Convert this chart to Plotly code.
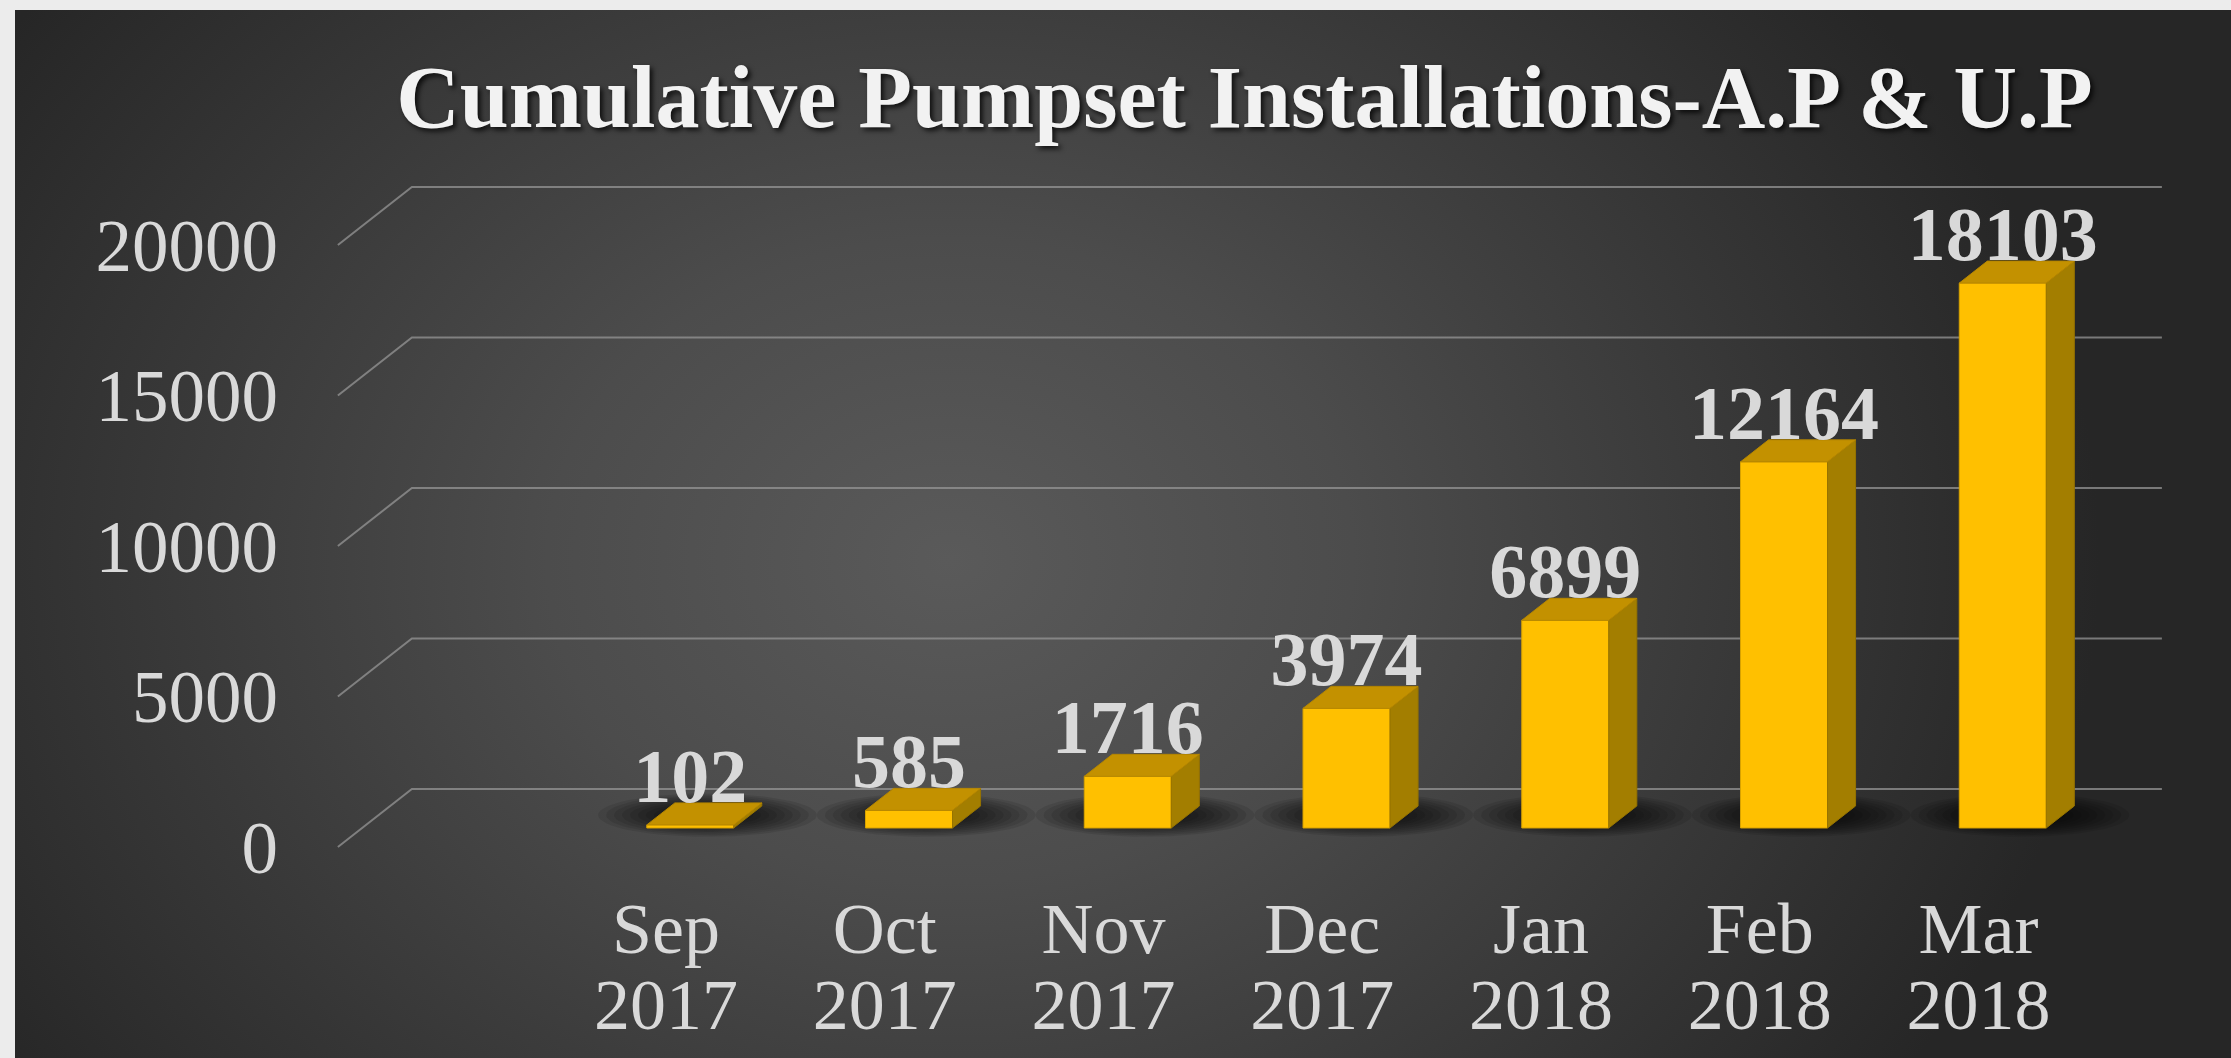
import base64
import numpy as np
import plotly.graph_objects as go

# ---------------- data ----------------
months = ["Sep", "Oct", "Nov", "Dec", "Jan", "Feb", "Mar"]
years = ["2017", "2017", "2017", "2017", "2018", "2018", "2018"]
values = [102, 585, 1716, 3974, 6899, 12164, 18103]
ytick_vals = [0, 5000, 10000, 15000, 20000]
ytick_text = ["0", "5000", "10000", "15000", "20000"]
title_text = "Cumulative Pumpset Installations-A.P & U.P"

# ---------------- projection / layout constants ----------------
W, H = 2231, 1058
CAT_PX = 218.75                      # pixels per category on the front plane
X0 = -666 / CAT_PX
X_RANGE = [X0, X0 + W / CAT_PX]
VAL_PER_PX = 20000 / 602
Y_TOP = 847 * VAL_PER_PX
Y_RANGE = [Y_TOP - H * VAL_PER_PX, Y_TOP]
DX = 74 / CAT_PX                     # full depth offset (x, category units)
DY = 58 * VAL_PER_PX                 # full depth offset (y, value units)
D1, D2 = 0.328, 0.707                # bar front / back depth fractions
BAR_W = 87 / CAT_PX
X_LEFT, X_RIGHT = -1.5, 6.5
LABEL_DROP = 18 * VAL_PER_PX

FONT = "Liberation Serif"
LABEL_COL = "#d9d9d9"

idx = list(range(len(values)))

fig = go.Figure()

# ---- back-wall gridlines with left-wall diagonals (base subplot) ----
gx, gy = [], []
for v in ytick_vals:
    gx += [X_LEFT, X_LEFT + DX, X_RIGHT + DX, None]
    gy += [v, v + DY, v + DY, None]
fig.add_trace(go.Scatter(x=gx, y=gy, mode="lines",
                         line=dict(color="rgba(150,150,150,0.75)", width=2),
                         hoverinfo="skip"))

# ---- soft floor shadows (base subplot) ----
t = np.linspace(0, 2 * np.pi, 72)
n_layers = 12
for k in range(n_layers):
    s = 1.0 - 0.8 * k / (n_layers - 1)
    sx, sy = [], []
    for i in idx:
        cx = i + 0.56 * DX
        cy = 0.55 * DY
        sx += list(cx + 0.5 * s * np.cos(t)) + [None]
        sy += list(cy + 720 * s * np.sin(t)) + [None]
    fig.add_trace(go.Scatter(x=sx, y=sy, mode="lines", fill="toself",
                             fillcolor="rgba(0,0,0,0.095)", line=dict(width=0),
                             hoverinfo="skip"))

# ---- front faces (overlay subplot, above grid & shadows) ----
fig.add_trace(go.Bar(x=[i + D1 * DX for i in idx], y=values, base=D1 * DY,
                     width=BAR_W, xaxis="x2",
                     marker=dict(color="#FFC000", line=dict(color="#D9A300", width=1)),
                     hoverinfo="skip"))

# ---- top and side faces ----
ddx = (D2 - D1) * DX
ddy = (D2 - D1) * DY
tx, ty, sx, sy = [], [], [], []
for i, v in zip(idx, values):
    xl = i + D1 * DX - BAR_W / 2
    xr = xl + BAR_W
    yb = D1 * DY
    yt = yb + v
    tx += [xl, xr, xr + ddx, xl + ddx, xl, None]
    ty += [yt, yt, yt + ddy, yt + ddy, yt, None]
    sx += [xr, xr, xr + ddx, xr + ddx, xr, None]
    sy += [yb, yt, yt + ddy, yb + ddy, yb, None]
fig.add_trace(go.Scatter(x=sx, y=sy, mode="lines", fill="toself", xaxis="x2",
                         fillcolor="#A37E00", line=dict(color="#967300", width=1),
                         hoverinfo="skip"))
fig.add_trace(go.Scatter(x=tx, y=ty, mode="lines", fill="toself", xaxis="x2",
                         fillcolor="#C39100", line=dict(color="#B58600", width=1),
                         hoverinfo="skip"))

# ---- data labels ----
fig.add_trace(go.Scatter(x=[i + D1 * DX for i in idx],
                         y=[v + D2 * DY - LABEL_DROP for v in values],
                         mode="text", text=[str(v) for v in values],
                         textposition="top center",
                         textfont=dict(family=FONT, size=76, color=LABEL_COL, weight="bold"),
                         cliponaxis=False, hoverinfo="skip", xaxis="x2"))

# ---- background (radial gradient panel + light border) ----
svg = f'''<svg xmlns="http://www.w3.org/2000/svg" width="{W}" height="{H}" viewBox="0 0 {W} {H}">
<defs><radialGradient id="g" gradientUnits="userSpaceOnUse" cx="950" cy="560" r="1150"
 gradientTransform="translate(950 560) scale(1 0.8) translate(-950 -560)">
<stop offset="0" stop-color="#5a5a5a"/><stop offset="0.35" stop-color="#4c4c4c"/>
<stop offset="1" stop-color="#262626"/></radialGradient></defs>
<rect width="{W}" height="{H}" fill="#ececec"/>
<rect x="15" y="10" width="{W - 15}" height="{H - 10}" fill="url(#g)"/></svg>'''
src = "data:image/svg+xml;base64," + base64.b64encode(svg.encode()).decode()

axis_common = dict(showgrid=False, zeroline=False, showline=False, ticks="")

fig.update_layout(
    width=W, height=H, autosize=False,
    margin=dict(l=0, r=0, t=0, b=0),
    paper_bgcolor="#ececec", plot_bgcolor="rgba(0,0,0,0)",
    showlegend=False, bargap=0, hovermode=False,
    images=[dict(source=src, xref="paper", yref="paper", x=0, y=1, sizex=1, sizey=1,
                 xanchor="left", yanchor="top", sizing="stretch", layer="below")],
    title=dict(text=title_text, x=1244.5 / W, xanchor="center", xref="container",
               y=1 - 96 / H, yanchor="middle", yref="container",
               font=dict(family=FONT, size=88, color="#f2f2f2", weight="bold",
                         shadow="3px 3px 5px rgba(0,0,0,0.75)")),
    xaxis=dict(range=X_RANGE, domain=[0, 1], anchor="free", position=211 / H,
               tickmode="array", tickvals=idx, ticktext=months,
               tickfont=dict(family=FONT, size=72, color=LABEL_COL),
               ticklabelstandoff=33, **axis_common),
    xaxis2=dict(range=X_RANGE, overlaying="x", anchor="free", position=211 / H,
                side="bottom", tickmode="array", tickvals=idx, ticktext=years,
                tickfont=dict(family=FONT, size=72, color=LABEL_COL),
                ticklabelstandoff=109, **axis_common),
    yaxis=dict(range=Y_RANGE, domain=[0, 1], anchor="free", position=338 / W,
               tickmode="array", tickvals=ytick_vals, ticktext=ytick_text,
               tickfont=dict(family=FONT, size=73, color=LABEL_COL),
               ticklabelstandoff=60, **axis_common),
)

fig.write_html("out.html", config={"displayModeBar": False, "staticPlot": True},
               post_script="document.body.style.margin='0';document.body.style.overflow='hidden';")
